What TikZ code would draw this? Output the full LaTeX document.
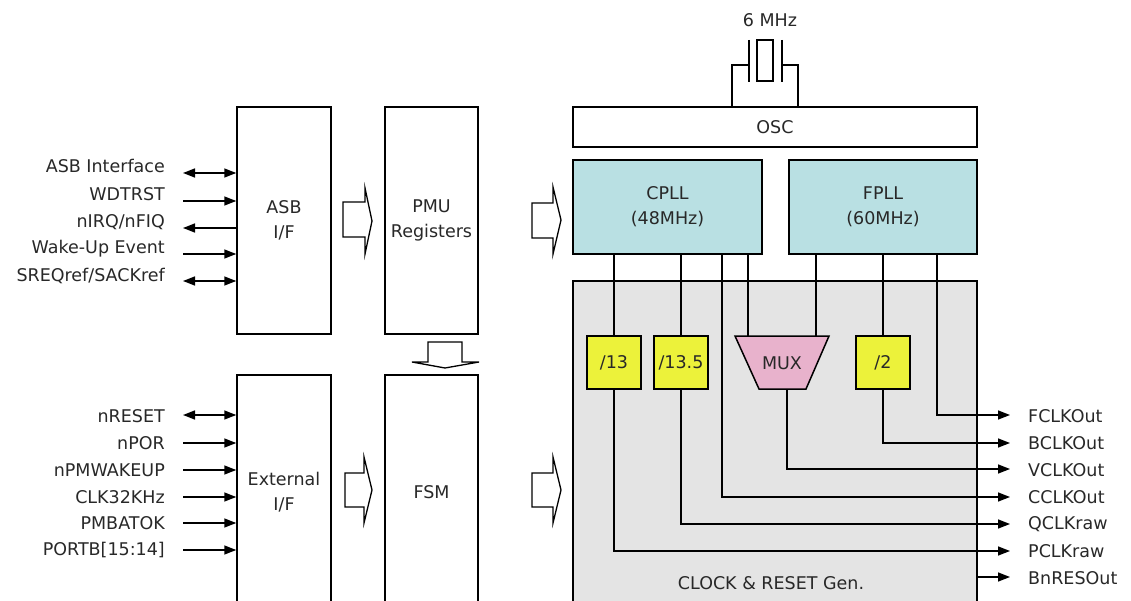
\documentclass[tikz,border=0pt]{standalone}
\usepackage{fontspec}
\setmainfont{DejaVu Sans}
\usetikzlibrary{arrows.meta}
\definecolor{pllcyan}{RGB}{185,224,227}
\definecolor{gengray}{RGB}{228,228,228}
\definecolor{divyellow}{RGB}{236,242,58}
\definecolor{muxpink}{RGB}{232,178,204}
\definecolor{txtgray}{RGB}{40,40,40}
\begin{document}
\begin{tikzpicture}[x=1pt,y=-1pt,
		every node/.style={font=\fontsize{17.5pt}{25pt}\selectfont, text=txtgray},
		blk/.style={draw, line width=1.5pt, fill=white, align=center, inner sep=0pt},
		divbox/.style={blk, fill=divyellow, minimum width=54pt, minimum height=53pt},
		wire/.style={line width=1.5pt},
		sigr/.style={wire, -{Triangle[length=12pt,width=9pt]}},
		sigl/.style={wire, {Triangle[length=12pt,width=9pt]}-},
		sigb/.style={wire, {Triangle[length=12pt,width=9pt]}-{Triangle[length=12pt,width=9pt]}},
		lbl/.style={anchor=east, inner sep=0pt},
		olbl/.style={anchor=west, inner sep=0pt}]
		
		\useasboundingbox (0,0) rectangle (1131,601);
		
		% blocks
		\node[blk, minimum width=94pt, minimum height=227pt] (asb) at (284,220.5) {ASB\\I/F};
		\node[blk, minimum width=93pt, minimum height=227pt] (pmu) at (431.5,220.5) {PMU\\Registers};
		\node[blk, minimum width=94pt, minimum height=235pt] (ext) at (284,492.5) {External\\I/F};
		\node[blk, minimum width=93pt, minimum height=235pt] (fsm) at (431.5,492.5) {FSM};
		\node[blk, minimum width=404pt, minimum height=40pt] (osc) at (775,127) {OSC};
		\node[blk, fill=pllcyan, minimum width=189pt, minimum height=94pt] (cpll) at (667.5,207) {CPLL\\(48MHz)};
		\node[blk, fill=pllcyan, minimum width=188pt, minimum height=94pt] (fpll) at (883,207) {FPLL\\(60MHz)};
		\node[blk, fill=gengray, minimum width=404pt, minimum height=329pt] (gen) at (775,445.5) {};
		\node (genlbl) at (771,583) {CLOCK \& RESET Gen.};
		
		% crystal
		\node (xtal) at (770,20) {6 MHz};
		\draw[line width=1.3pt] (757,40) rectangle (773,81);
		\draw[line width=1.3pt] (749,40) -- (749,82);
		\draw[line width=1.3pt] (782,40) -- (782,82);
		\draw[line width=1.3pt] (749,65) -- (732,65) -- (osc.north -| 732,0);
		\draw[line width=1.3pt] (782,65) -- (798,65) -- (osc.north -| 798,0);
		
		% hollow block arrows
		\draw[line width=1.3pt, fill=white] (343,202) -- (365,202) -- (365,188) -- (372,221) -- (365,254) -- (365,237) -- (343,237) -- cycle;
		\draw[line width=1.3pt, fill=white] (532,203) -- (553,203) -- (553,187) -- (561,220) -- (553,254) -- (553,238) -- (532,238) -- cycle;
		\draw[line width=1.3pt, fill=white] (345,473) -- (364,473) -- (364,457) -- (372,490) -- (364,523) -- (364,507) -- (345,507) -- cycle;
		\draw[line width=1.3pt, fill=white] (532,473) -- (553,473) -- (553,457) -- (561,490) -- (553,523) -- (553,507) -- (532,507) -- cycle;
		\draw[line width=1.3pt, fill=white] (428,342) -- (462,342) -- (462,362) -- (479,362) -- (445,368) -- (412,362) -- (428,362) -- cycle;
		
		% ASB signals
		\node[lbl] (s1) at (165,166) {ASB Interface};
		\node[lbl] (s2) at (165,194) {WDTRST};
		\node[lbl] (s3) at (165,222) {nIRQ/nFIQ};
		\node[lbl] (s4) at (165,249) {Wake-Up Event};
		\node[lbl] (s5) at (165,276) {SREQref/SACKref};
		\coordinate (a1) at (183,173);
		\coordinate (a2) at (183,201);
		\coordinate (a3) at (183,228);
		\coordinate (a4) at (183,254);
		\coordinate (a5) at (183,281);
		\draw[sigb] (a1) -- (a1 -| asb.west);
		\draw[sigr] (a2) -- (a2 -| asb.west);
		\draw[sigl] (a3) -- (a3 -| asb.west);
		\draw[sigr] (a4) -- (a4 -| asb.west);
		\draw[sigb] (a5) -- (a5 -| asb.west);
		
		% external signals
		\node[lbl] (e1) at (165,416) {nRESET};
		\node[lbl] (e2) at (165,443) {nPOR};
		\node[lbl] (e3) at (165,470) {nPMWAKEUP};
		\node[lbl] (e4) at (165,497) {CLK32KHz};
		\node[lbl] (e5) at (165,523) {PMBATOK};
		\node[lbl] (e6) at (165,550) {PORTB[15:14]};
		\coordinate (b1) at (183,415);
		\coordinate (b2) at (183,443);
		\coordinate (b3) at (183,470);
		\coordinate (b4) at (183,497);
		\coordinate (b5) at (183,523);
		\coordinate (b6) at (183,550);
		\draw[sigb] (b1) -- (b1 -| ext.west);
		\draw[sigr] (b2) -- (b2 -| ext.west);
		\draw[sigr] (b3) -- (b3 -| ext.west);
		\draw[sigr] (b4) -- (b4 -| ext.west);
		\draw[sigr] (b5) -- (b5 -| ext.west);
		\draw[sigr] (b6) -- (b6 -| ext.west);
		
		% dividers and mux
		\node[divbox] (d13) at (614,362.5) {/13};
		\node[divbox] (d135) at (681,362.5) {/13.5};
		\node[divbox] (d2) at (883,362.5) {/2};
		\draw[line width=1.5pt, fill=muxpink] (735,336) -- (829,336) -- (806,389) -- (759,389) -- cycle;
		\node (mux) at (782,363) {MUX};
		\coordinate (muxa) at (748,336);
		\coordinate (muxb) at (816,336);
		\coordinate (muxo) at (787,389);
		
		% outputs
		\node[olbl] (o1) at (1028,416) {FCLKOut};
		\node[olbl] (o2) at (1028,443) {BCLKOut};
		\node[olbl] (o3) at (1028,470) {VCLKOut};
		\node[olbl] (o4) at (1028,497) {CCLKOut};
		\node[olbl] (o5) at (1028,524) {QCLKraw};
		\node[olbl] (o6) at (1028,551) {PCLKraw};
		\node[olbl] (o7) at (1028,578) {BnRESOut};
		\coordinate (t1) at (1010,415);
		\coordinate (t2) at (1010,443);
		\coordinate (t3) at (1010,469);
		\coordinate (t4) at (1010,497);
		\coordinate (t5) at (1010,524);
		\coordinate (t6) at (1010,551);
		\coordinate (t7) at (1010,577);
		
		\draw[wire] (cpll.south -| d13) -- (d13.north);
		\draw[wire] (cpll.south -| d135) -- (d135.north);
		\draw[wire] (cpll.south -| muxa) -- (muxa);
		\draw[wire] (fpll.south -| muxb) -- (muxb);
		\draw[wire] (fpll.south -| d2) -- (d2.north);
		
		\draw[sigr] (fpll.south -| 937,0) |- (t1);
		\draw[sigr] (d2.south) |- (t2);
		\draw[sigr] (muxo) |- (t3);
		\draw[sigr] (cpll.south -| 722,0) |- (t4);
		\draw[sigr] (d135.south) |- (t5);
		\draw[sigr] (d13.south) |- (t6);
		\draw[sigr] (gen.east |- t7) -- (t7);
		
	\end{tikzpicture}
\end{document}
